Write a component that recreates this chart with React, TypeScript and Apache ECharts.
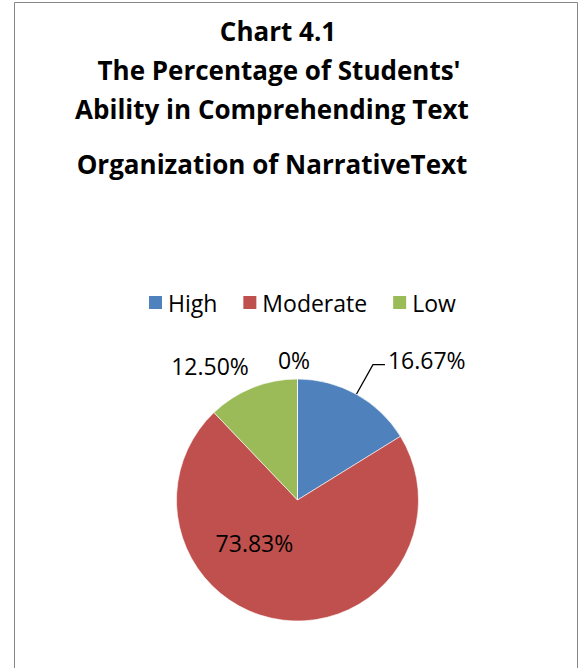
import React, { useEffect, useRef } from "react";
import * as echarts from "echarts";

const titleLines = [
  "Chart 4.1",
  "The Percentage of Students'",
  "Ability in Comprehending Text",
  "Organization of NarrativeText",
];
const categories = ["High", "Moderate", "Low", ""];
const values = [16.67, 73.83, 12.5, 0];
const colors = ["#4F81BD", "#C0504D", "#9BBB59", "#8064A2"];
const legendNames = ["High", "Moderate", "Low"];

const FONT = '"Open Sans", "Noto Sans", sans-serif';

export default function App() {
  const ref = useRef<HTMLDivElement>(null);
  useEffect(() => {
    if (!ref.current) return;
    const chart = echarts.init(ref.current, undefined, { renderer: "svg" });
    const titleX = [278, 279, 272, 272];
    const titleY = [30.5, 69.5, 108.5, 163.5];
    // per-slice label offsets (layout only)
    const labelShift: Record<number, [number, number]> = {
      0: [0, -5],
      1: [-35, -20],
      2: [24, 10],
      3: [-3.5, -76.5],
    };
    chart.setOption({
      animation: false,
      backgroundColor: "#ffffff",
      color: colors,
      graphic: [
        {
          type: "rect",
          shape: { x: 14.5, y: 2.5, width: 563, height: 720 },
          style: { fill: "none", stroke: "#868686", lineWidth: 1 },
          silent: true,
        },
        ...titleLines.map((t, i) => ({
          type: "text",
          x: titleX[i],
          y: titleY[i],
          style: {
            text: t,
            fill: "#000",
            fontSize: 26,
            fontWeight: "bold",
            fontFamily: FONT,
            align: "center",
            verticalAlign: "middle",
          },
        })),
      ],
      legend: {
        data: legendNames,
        left: 147,
        top: 291,
        padding: 0,
        icon: "rect",
        itemWidth: 15,
        itemHeight: 15,
        itemGap: 24,
        textStyle: { fontSize: 23, fontFamily: FONT, color: "#000" },
      },
      series: [
        {
          type: "pie",
          center: [297.5, 500],
          radius: 121,
          startAngle: 90,
          clockwise: true,
          avoidLabelOverlap: false,
          itemStyle: { borderColor: "#ffffff", borderWidth: 0.6 },
          label: {
            show: true,
            position: "outside",
            fontSize: 23,
            fontFamily: FONT,
            color: "#000",
            distanceToLabelLine: 3,
            formatter: (p: any) =>
              p.value === 0 ? "0%" : Number(p.value).toFixed(2) + "%",
          },
          labelLine: {
            show: true,
            length: 34,
            length2: 12,
            smooth: false,
            lineStyle: { color: "#000", width: 1.3 },
          },
          emphasis: { disabled: true },
          labelLayout: (params: any) => {
            const s = labelShift[params.dataIndex];
            if (!s) return {};
            return { dx: s[0], dy: s[1] };
          },
          data: categories.map((c, i) => {
            const item: any = { name: c, value: values[i] };
            if (i === 1 || i === 3) {
              item.label = { position: "inside" };
              item.labelLine = { show: false };
            }
            if (i === 2) {
              item.labelLine = { show: false };
            }
            return item;
          }),
        },
      ],
    });
    return () => chart.dispose();
  }, []);
  return (
    <div
      ref={ref}
      style={{
        position: "fixed",
        left: 0,
        top: 0,
        width: 581,
        height: 668,
        background: "#fff",
      }}
    />
  );
}
